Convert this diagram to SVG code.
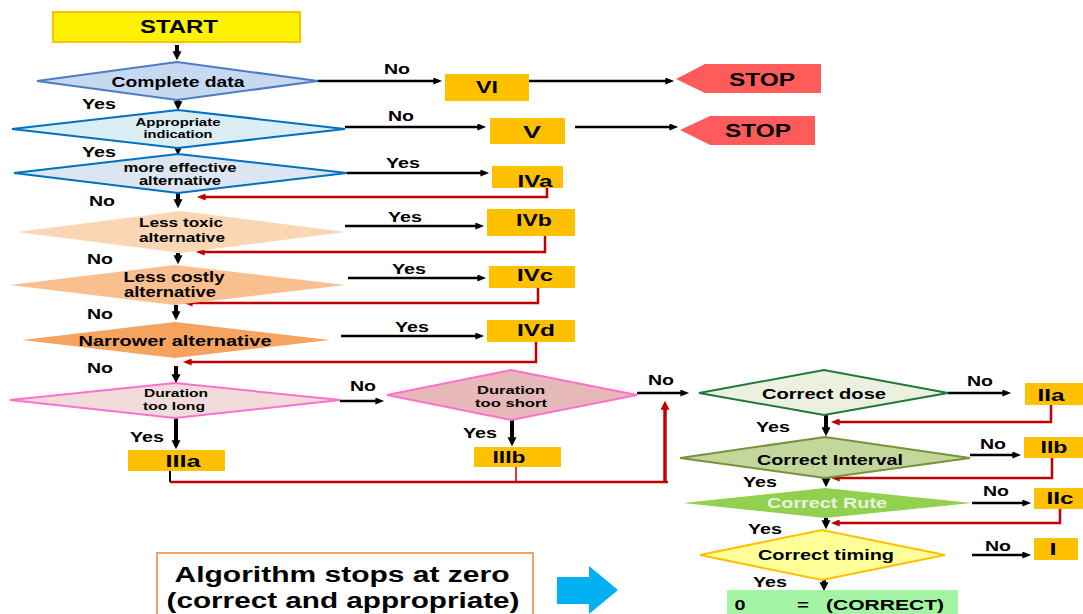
<svg xmlns="http://www.w3.org/2000/svg" width="1083" height="614" viewBox="0 0 1083 614">
<style>
text{font-family:"Liberation Sans",Arial,sans-serif;font-weight:bold;fill:#000;text-anchor:middle;dominant-baseline:central}
.lbl{font-size:15px}
.box{fill:#FFC000}
.blk{stroke:#000;stroke-width:2.5;fill:none}
.thk{stroke:#000;stroke-width:4;fill:none}
.red{stroke:#C00000;stroke-width:2.5;fill:none}
.stop{fill:#FF5B5B}
.bt{font-size:17px}
</style>
<defs>
<marker id="ah" viewBox="0 0 10 8" refX="3" refY="4" markerWidth="10" markerHeight="7" markerUnits="userSpaceOnUse" orient="auto"><path d="M0,0L10,4L0,8z" fill="#000"/></marker>
<marker id="ahd" viewBox="0 0 10 10" refX="2" refY="5" markerWidth="9" markerHeight="13" markerUnits="userSpaceOnUse" orient="auto"><path d="M0,0L10,5L0,10z" fill="#000"/></marker>
<marker id="ahr" viewBox="0 0 10 8" refX="3" refY="4" markerWidth="10" markerHeight="7" markerUnits="userSpaceOnUse" orient="auto"><path d="M0,0L10,4L0,8z" fill="#C00000"/></marker>
<marker id="ahru" viewBox="0 0 10 10" refX="2" refY="5" markerWidth="9" markerHeight="12" markerUnits="userSpaceOnUse" orient="auto"><path d="M0,0L10,5L0,10z" fill="#C00000"/></marker>
</defs>

<g id="connectors">
<line class="thk" x1="177" y1="45" x2="177" y2="53" marker-end="url(#ahd)"/>
<line class="thk" x1="178" y1="98" x2="178" y2="103" marker-end="url(#ahd)"/>
<line class="thk" x1="178" y1="146" x2="178" y2="148" marker-end="url(#ahd)"/>
<line class="thk" x1="178" y1="193" x2="178" y2="201" marker-end="url(#ahd)"/>
<line class="thk" x1="178" y1="253" x2="178" y2="257" marker-end="url(#ahd)"/>
<line class="thk" x1="176" y1="305" x2="176" y2="313" marker-end="url(#ahd)"/>
<line class="thk" x1="176" y1="366" x2="176" y2="376" marker-end="url(#ahd)"/>
<line class="thk" x1="176" y1="418" x2="176" y2="442" marker-end="url(#ahd)"/>
<line class="thk" x1="512" y1="420" x2="512" y2="439" marker-end="url(#ahd)"/>
<line class="thk" x1="826" y1="415" x2="826" y2="429" marker-end="url(#ahd)"/>
<line class="thk" x1="826" y1="477" x2="826" y2="480" marker-end="url(#ahd)"/>
<line class="thk" x1="826" y1="518" x2="826" y2="522" marker-end="url(#ahd)"/>
<line class="thk" x1="824" y1="580" x2="824" y2="584" marker-end="url(#ahd)"/>

<line class="blk" x1="318" y1="81" x2="436" y2="81" marker-end="url(#ah)"/>
<line class="blk" x1="529" y1="81" x2="668" y2="81" marker-end="url(#ah)"/>
<line class="blk" x1="345" y1="127" x2="480" y2="127" marker-end="url(#ah)"/>
<line class="blk" x1="575" y1="127" x2="672" y2="127" marker-end="url(#ah)"/>
<line class="blk" x1="347" y1="173" x2="483" y2="173" marker-end="url(#ah)"/>
<line class="blk" x1="345" y1="226" x2="478" y2="226" marker-end="url(#ah)"/>
<line class="blk" x1="348" y1="278" x2="480" y2="278" marker-end="url(#ah)"/>
<line class="blk" x1="341" y1="336" x2="478" y2="336" marker-end="url(#ah)"/>
<line class="blk" x1="340" y1="401" x2="378" y2="401" stroke-width="3" marker-end="url(#ah)"/>
<line class="blk" x1="637" y1="393" x2="683" y2="393" marker-end="url(#ah)"/>
<line class="blk" x1="948" y1="393" x2="1005" y2="393" marker-end="url(#ah)"/>
<line class="blk" x1="970" y1="455" x2="1015" y2="455" marker-end="url(#ah)"/>
<line class="blk" x1="972" y1="503" x2="1025" y2="503" marker-end="url(#ah)"/>
<line class="blk" x1="972" y1="555" x2="1025" y2="555" marker-end="url(#ah)"/>

<path class="red" d="M547,188V197H203" marker-end="url(#ahr)"/>
<path class="red" d="M545,236V252H202" marker-end="url(#ahr)"/>
<path class="red" d="M538,288V303H190" marker-end="url(#ahr)"/>
<path class="red" d="M536,342V362H189" marker-end="url(#ahr)"/>
<path d="M170,470V482" stroke="#000" stroke-width="2" fill="none"/>
<path class="red" d="M170,482H668"/>
<path d="M516,466V482" stroke="#C00000" stroke-width="1.5" fill="none"/>
<line x1="665" y1="482" x2="665" y2="408" stroke="#C00000" stroke-width="3.5" marker-end="url(#ahru)"/>
<path class="red" d="M1051,404V422H837" marker-end="url(#ahr)"/>
<path class="red" d="M1052,458V478H837" marker-end="url(#ahr)"/>
<path class="red" d="M1060,508V523H837" marker-end="url(#ahr)"/>
</g>

<g id="start"><rect x="53" y="12" width="247" height="30" fill="#FFF200" stroke="#FFC000" stroke-width="2"/><text x="179" y="27" font-size="18" textLength="78" lengthAdjust="spacingAndGlyphs">START</text></g>

<g id="complete-data"><polygon points="37,81 177,62 318,81 177,100" fill="#C6D9F1" stroke="#4A7EC0" stroke-width="2"/><text x="178" y="81" font-size="15" textLength="133" lengthAdjust="spacingAndGlyphs">Complete data</text></g>

<g id="appropriate-indication"><polygon points="12,129 178,110 345,129 178,148" fill="#DBEEF4" stroke="#0070C0" stroke-width="2"/><text x="178" y="122" font-size="11" textLength="85" lengthAdjust="spacingAndGlyphs">Appropriate</text><text x="178" y="134" font-size="11" textLength="69" lengthAdjust="spacingAndGlyphs">indication</text></g>

<g id="more-effective"><polygon points="14,173 178,154 347,173 178,193" fill="#DCE6F2" stroke="#0070C0" stroke-width="2"/><text x="180" y="167" font-size="13" textLength="113" lengthAdjust="spacingAndGlyphs">more effective</text><text x="180" y="180" font-size="13" textLength="82" lengthAdjust="spacingAndGlyphs">alternative</text></g>

<g id="less-toxic"><polygon points="17,232 181,211 345,232 181,253" fill="#FAD6B4"/><text x="181" y="222" font-size="13" textLength="84" lengthAdjust="spacingAndGlyphs">Less toxic</text><text x="182" y="237" font-size="13" textLength="86" lengthAdjust="spacingAndGlyphs">alternative</text></g>

<g id="less-costly"><polygon points="10,285 175,265 345,285 175,305" fill="#F9BF8F"/><text x="174" y="277" font-size="14" textLength="101" lengthAdjust="spacingAndGlyphs">Less costly</text><text x="170" y="292" font-size="14" textLength="92" lengthAdjust="spacingAndGlyphs">alternative</text></g>

<g id="narrower"><polygon points="22,340 175,322 330,340 175,358" fill="#F6A35F"/><text x="175" y="340" font-size="15" textLength="193" lengthAdjust="spacingAndGlyphs">Narrower alternative</text></g>

<g id="duration-long"><polygon points="10,400 175,383 340,400 175,418" fill="#F2DCDB" stroke="#FF6FCF" stroke-width="2"/><text x="176" y="393" font-size="11.5" textLength="64" lengthAdjust="spacingAndGlyphs">Duration</text><text x="174" y="406" font-size="11.5" textLength="62" lengthAdjust="spacingAndGlyphs">too long</text></g>

<g id="duration-short"><polygon points="387,395 511,370 637,395 511,420" fill="#E6B8B7" stroke="#FF6FCF" stroke-width="2"/><text x="511" y="390" font-size="11.5" textLength="68" lengthAdjust="spacingAndGlyphs">Duration</text><text x="511" y="403" font-size="11.5" textLength="72" lengthAdjust="spacingAndGlyphs">too short</text></g>

<g id="correct-dose"><polygon points="699,393 824,370 948,393 824,415" fill="#EBF1DE" stroke="#1F7A3A" stroke-width="2"/><text x="824" y="393" font-size="15" textLength="124" lengthAdjust="spacingAndGlyphs">Correct dose</text></g>

<g id="correct-interval"><polygon points="680,458 825,437 970,458 825,478" fill="#C3D69B" stroke="#77933C" stroke-width="2"/><text x="830" y="459" font-size="15" textLength="146" lengthAdjust="spacingAndGlyphs">Correct Interval</text></g>

<g id="correct-rute"><polygon points="683,503 825,488 972,503 825,518" fill="#92D050"/><text x="827" y="503" font-size="14" textLength="120" lengthAdjust="spacingAndGlyphs" style="fill:#EAF2E0">Correct Rute</text></g>

<g id="correct-timing"><polygon points="700,555 822,530 945,555 822,580" fill="#FFFF99" stroke="#FFC000" stroke-width="2"/><text x="826" y="555" font-size="14.5" textLength="136" lengthAdjust="spacingAndGlyphs">Correct timing</text></g>

<g id="vi"><rect class="box" x="445" y="74" width="84" height="27"/><text class="bt" x="487" y="87" textLength="22" lengthAdjust="spacingAndGlyphs">VI</text></g>
<g id="stop1"><polygon class="stop" points="676,79 705,64 821,64 821,93 705,93"/><text x="762" y="80" font-size="18" textLength="66" lengthAdjust="spacingAndGlyphs">STOP</text></g>
<g id="v"><rect class="box" x="490" y="118" width="75" height="26"/><text class="bt" x="532" y="132" textLength="18" lengthAdjust="spacingAndGlyphs">V</text></g>
<g id="stop2"><polygon class="stop" points="680,130 710,116 815,116 815,145 710,145"/><text x="758" y="131" font-size="18" textLength="66" lengthAdjust="spacingAndGlyphs">STOP</text></g>
<g id="iva"><rect class="box" x="492" y="166" width="71" height="22"/><text class="bt" x="535" y="181" textLength="35" lengthAdjust="spacingAndGlyphs">IVa</text></g>
<g id="ivb"><rect class="box" x="487" y="209" width="88" height="27"/><text class="bt" x="534" y="220" textLength="36" lengthAdjust="spacingAndGlyphs">IVb</text></g>
<g id="ivc"><rect class="box" x="489" y="266" width="86" height="22"/><text class="bt" x="535" y="275" textLength="36" lengthAdjust="spacingAndGlyphs">IVc</text></g>
<g id="ivd"><rect class="box" x="487" y="320" width="88" height="22"/><text class="bt" x="536" y="330" textLength="38" lengthAdjust="spacingAndGlyphs">IVd</text></g>
<g id="iiia"><rect class="box" x="128" y="450" width="97" height="21"/><text class="bt" x="183" y="461" textLength="35" lengthAdjust="spacingAndGlyphs">IIIa</text></g>
<g id="iiib"><rect class="box" x="474" y="447" width="87" height="20"/><text class="bt" x="509" y="457" textLength="33" lengthAdjust="spacingAndGlyphs">IIIb</text></g>
<g id="iia"><rect class="box" x="1025" y="383" width="58" height="22"/><text class="bt" x="1051" y="395" textLength="27" lengthAdjust="spacingAndGlyphs">IIa</text></g>
<g id="iib"><rect class="box" x="1024" y="437" width="59" height="21"/><text class="bt" x="1054" y="447" textLength="27" lengthAdjust="spacingAndGlyphs">IIb</text></g>
<g id="iic"><rect class="box" x="1034" y="488" width="49" height="21"/><text class="bt" x="1060" y="498" textLength="27" lengthAdjust="spacingAndGlyphs">IIc</text></g>
<g id="i"><rect class="box" x="1034" y="538" width="44" height="22"/><text class="bt" x="1053" y="549" textLength="7" lengthAdjust="spacingAndGlyphs">I</text></g>
<g id="zero"><rect x="727" y="590" width="231" height="24" fill="#A3F5A3"/><text x="740" y="604" font-size="15" textLength="11" lengthAdjust="spacingAndGlyphs">0</text><text x="803" y="604" font-size="15" textLength="12" lengthAdjust="spacingAndGlyphs">=</text><text x="885" y="604" font-size="15" textLength="118" lengthAdjust="spacingAndGlyphs">(CORRECT)</text></g>

<g id="note"><rect x="157" y="553" width="376" height="64" fill="#fff" stroke="#F4A460" stroke-width="2"/><text x="342" y="574" font-size="22" textLength="335" lengthAdjust="spacingAndGlyphs">Algorithm stops at zero</text><text x="343" y="600" font-size="22" textLength="353" lengthAdjust="spacingAndGlyphs">(correct and appropriate)</text></g>
<g id="blue-arrow"><polygon points="557,577 589,577 589,566 618,590 589,614 589,604 557,604" fill="#00B0F0"/></g>

<g id="labels">
<text class="lbl" x="397" y="68" textLength="26" lengthAdjust="spacingAndGlyphs">No</text>
<text class="lbl" x="99" y="103" textLength="34" lengthAdjust="spacingAndGlyphs">Yes</text>
<text class="lbl" x="401" y="115" textLength="26" lengthAdjust="spacingAndGlyphs">No</text>
<text class="lbl" x="99" y="151" textLength="34" lengthAdjust="spacingAndGlyphs">Yes</text>
<text class="lbl" x="403" y="162" textLength="34" lengthAdjust="spacingAndGlyphs">Yes</text>
<text class="lbl" x="102" y="200" textLength="26" lengthAdjust="spacingAndGlyphs">No</text>
<text class="lbl" x="405" y="216" textLength="34" lengthAdjust="spacingAndGlyphs">Yes</text>
<text class="lbl" x="100" y="258" textLength="26" lengthAdjust="spacingAndGlyphs">No</text>
<text class="lbl" x="409" y="268" textLength="34" lengthAdjust="spacingAndGlyphs">Yes</text>
<text class="lbl" x="100" y="313" textLength="26" lengthAdjust="spacingAndGlyphs">No</text>
<text class="lbl" x="412" y="326" textLength="34" lengthAdjust="spacingAndGlyphs">Yes</text>
<text class="lbl" x="100" y="367" textLength="26" lengthAdjust="spacingAndGlyphs">No</text>
<text class="lbl" x="363" y="385" textLength="26" lengthAdjust="spacingAndGlyphs">No</text>
<text class="lbl" x="147" y="436" textLength="34" lengthAdjust="spacingAndGlyphs">Yes</text>
<text class="lbl" x="480" y="432" textLength="34" lengthAdjust="spacingAndGlyphs">Yes</text>
<text class="lbl" x="661" y="379" textLength="26" lengthAdjust="spacingAndGlyphs">No</text>
<text class="lbl" x="980" y="380" textLength="26" lengthAdjust="spacingAndGlyphs">No</text>
<text class="lbl" x="773" y="426" textLength="34" lengthAdjust="spacingAndGlyphs">Yes</text>
<text class="lbl" x="993" y="443" textLength="26" lengthAdjust="spacingAndGlyphs">No</text>
<text class="lbl" x="760" y="481" textLength="34" lengthAdjust="spacingAndGlyphs">Yes</text>
<text class="lbl" x="996" y="490" textLength="26" lengthAdjust="spacingAndGlyphs">No</text>
<text class="lbl" x="765" y="528" textLength="34" lengthAdjust="spacingAndGlyphs">Yes</text>
<text class="lbl" x="998" y="545" textLength="26" lengthAdjust="spacingAndGlyphs">No</text>
<text class="lbl" x="770" y="581" textLength="34" lengthAdjust="spacingAndGlyphs">Yes</text>
</g>
</svg>
